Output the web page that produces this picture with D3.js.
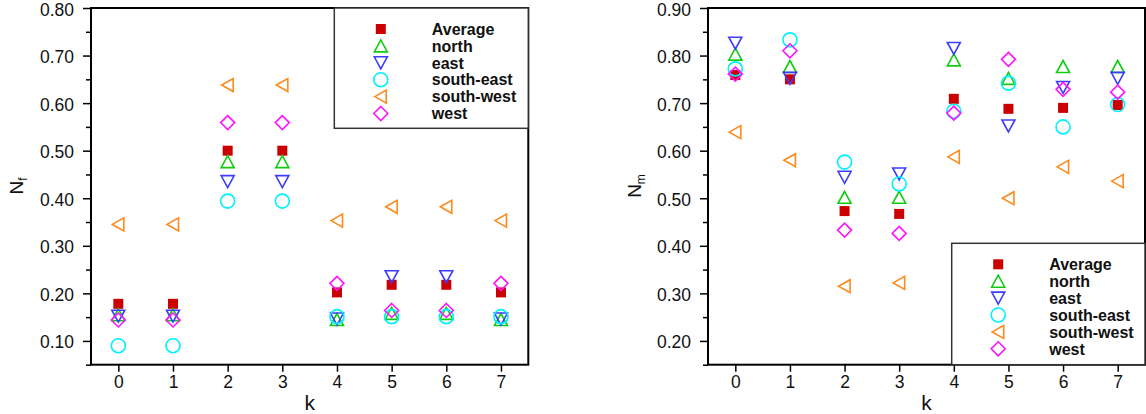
<!DOCTYPE html>
<html>
<head>
<meta charset="utf-8">
<script src="https://cdn.jsdelivr.net/npm/d3@7"></script>
<style>
  body { margin: 0; background: #fff; }
  svg { display: block; font-family: "Liberation Sans", Arial, sans-serif; }
</style>
</head>
<body>
<svg id="chart" width="1146" height="414"></svg>
<script>
// k values on the x axis
const kValues = [0, 1, 2, 3, 4, 5, 6, 7]
const seriesNames = ['Average', 'north', 'east', 'south-east', 'south-west', 'west']

// left panel, N_f
const nfAverage   = [0.178, 0.178, 0.500, 0.500, 0.202, 0.218, 0.218, 0.202]
const nfNorth     = [0.155, 0.155, 0.477, 0.477, 0.145, 0.158, 0.158, 0.145]
const nfEast      = [0.152, 0.152, 0.435, 0.435, 0.146, 0.235, 0.235, 0.146]
const nfSouthEast = [0.090, 0.090, 0.394, 0.394, 0.151, 0.151, 0.151, 0.151]
const nfSouthWest = [0.345, 0.345, 0.638, 0.638, 0.353, 0.382, 0.382, 0.353]
const nfWest      = [0.144, 0.144, 0.559, 0.559, 0.221, 0.164, 0.164, 0.221]
const nfTicks = [0.10, 0.20, 0.30, 0.40, 0.50, 0.60, 0.70, 0.80]
const nfMinor = [0.05, 0.15, 0.25, 0.35, 0.45, 0.55, 0.65, 0.75]

// right panel, N_m
const nmAverage   = [0.759, 0.750, 0.473, 0.467, 0.709, 0.688, 0.690, 0.696]
const nmNorth     = [0.803, 0.777, 0.502, 0.502, 0.791, 0.752, 0.777, 0.777]
const nmEast      = [0.826, 0.752, 0.544, 0.551, 0.815, 0.652, 0.733, 0.752]
const nmSouthEast = [0.772, 0.833, 0.576, 0.530, 0.683, 0.742, 0.650, 0.697]
const nmSouthWest = [0.639, 0.580, 0.315, 0.322, 0.587, 0.500, 0.566, 0.536]
const nmWest      = [0.761, 0.810, 0.433, 0.426, 0.679, 0.792, 0.729, 0.723]
const nmTicks = [0.20, 0.30, 0.40, 0.50, 0.60, 0.70, 0.80, 0.90]
const nmMinor = [0.15, 0.25, 0.35, 0.45, 0.55, 0.65, 0.75, 0.85]

var colors = ['#cc0000', '#11cc11', '#3c3cff', '#00f0ff', '#ff8a1c', '#ff14ff']

// marker shapes, centred on (0,0)
var shapes = [
    'M-5,-5H5V5H-5Z',            // square (filled)
    'M0,-6L6.5,6H-6.5Z',         // triangle up
    'M0,6L6.5,-6H-6.5Z',         // triangle down
    null,                        // circle
    'M-6,0L5.5,-6.5V6.5Z',       // triangle left
    'M0,-7L7,0L0,7L-7,0Z'        // diamond
]

var svg = d3.select('#chart')

function marker(sel, idx) {
    if (idx === 3) {
        sel.append('circle').attr('r', 7)
            .attr('fill', 'none').attr('stroke', colors[idx]).attr('stroke-width', 1.6)
    } else if (idx === 0) {
        sel.append('path').attr('d', shapes[idx]).attr('fill', colors[idx])
    } else {
        sel.append('path').attr('d', shapes[idx])
            .attr('fill', 'none').attr('stroke', colors[idx]).attr('stroke-width', 1.6)
    }
}

function drawPanel(p) {
    var top = 8, bottom = 364.7

    var x_scale = d3.scaleLinear().domain([-0.5, 7.5]).range([p.left, p.right])
    var y_scale = d3.scaleLinear().domain(p.yDomain).range([bottom, top])

    var g = svg.append('g')

    // minor ticks
    g.append('g')
        .attr('transform', 'translate(' + p.left + ',0)')
        .call(d3.axisLeft(y_scale).tickValues(p.minor).tickSize(5).tickFormat(''))
        .call(a => a.select('.domain').remove())
        .selectAll('line').attr('stroke', '#000').attr('stroke-width', 1.5)

    var yAxis = g.append('g')
        .attr('transform', 'translate(' + p.left + ',0)')
        .call(d3.axisLeft(y_scale).tickValues(p.ticks).tickSize(8).tickPadding(9).tickFormat(d3.format('.2f')))
    yAxis.select('.domain').remove()
    yAxis.selectAll('line').attr('stroke', '#000').attr('stroke-width', 1.5)
    yAxis.selectAll('text').attr('font-size', 17.5).attr('dy', '0.4em').attr('fill', '#111').style('font-family', 'Liberation Sans, Arial')

    var xAxis = g.append('g')
        .attr('transform', 'translate(0,' + bottom + ')')
        .call(d3.axisBottom(x_scale).tickValues(kValues).tickSize(7).tickPadding(4).tickFormat(d3.format('d')))
    xAxis.select('.domain').remove()
    xAxis.selectAll('line').attr('stroke', '#000').attr('stroke-width', 1.5)
    xAxis.selectAll('text').attr('font-size', 17.5).attr('fill', '#111').style('font-family', 'Liberation Sans, Arial')

    // frame
    g.append('rect')
        .attr('x', p.left).attr('y', top)
        .attr('width', p.right - p.left).attr('height', bottom - top)
        .attr('fill', 'none').attr('stroke', '#000').attr('stroke-width', 2)

    // points
    p.series.forEach(function (vals, idx) {
        g.append('g').selectAll('g')
            .data(vals)
            .enter()
            .append('g')
            .attr('transform', function (d, i) { return 'translate(' + x_scale(kValues[i]) + ',' + y_scale(d) + ')' })
            .each(function () { marker(d3.select(this), idx) })
    })

    // legend
    var lg = g.append('g').attr('transform', 'translate(' + p.legend[0] + ',' + p.legend[1] + ')')
    lg.append('rect')
        .attr('width', p.right - p.legend[0]).attr('height', p.legend[2])
        .attr('fill', '#fff').attr('stroke', '#333').attr('stroke-width', 1.5)
    seriesNames.forEach(function (name, idx) {
        var row = lg.append('g').attr('transform', 'translate(0,' + (21 + idx * 16.9) + ')')
        var m = row.append('g').attr('transform', 'translate(46.5,0)')
        marker(m, idx)
        row.append('text')
            .attr('x', 97.5).attr('dy', '0.36em')
            .attr('font-size', 16).attr('font-weight', 'bold').attr('fill', '#111')
            .text(name)
    })

    // axis titles
    g.append('text')
        .attr('x', (p.left + p.right) / 2).attr('y', 410)
        .attr('text-anchor', 'middle').attr('font-size', 21).attr('fill', '#111')
        .text('k')

    var yt = g.append('text')
        .attr('transform', 'translate(' + p.titleX + ',186) rotate(-90)')
        .attr('text-anchor', 'middle').attr('font-size', 19).attr('fill', '#111')
    yt.append('tspan').text('N')
    yt.append('tspan').attr('font-size', 12).attr('dy', 4).text(p.sub)
}

drawPanel({
    left: 91, right: 528.3, yDomain: [0.05, 0.80],
    ticks: nfTicks, minor: nfMinor,
    series: [nfAverage, nfNorth, nfEast, nfSouthEast, nfSouthWest, nfWest],
    legend: [334.3, 8, 120.3], titleX: 23, sub: 'f'
})

drawPanel({
    left: 708, right: 1145, yDomain: [0.15, 0.90],
    ticks: nmTicks, minor: nmMinor,
    series: [nmAverage, nmNorth, nmEast, nmSouthEast, nmSouthWest, nmWest],
    legend: [951.7, 243.3, 121.4], titleX: 641, sub: 'm'
})
</script>
</body>
</html>
